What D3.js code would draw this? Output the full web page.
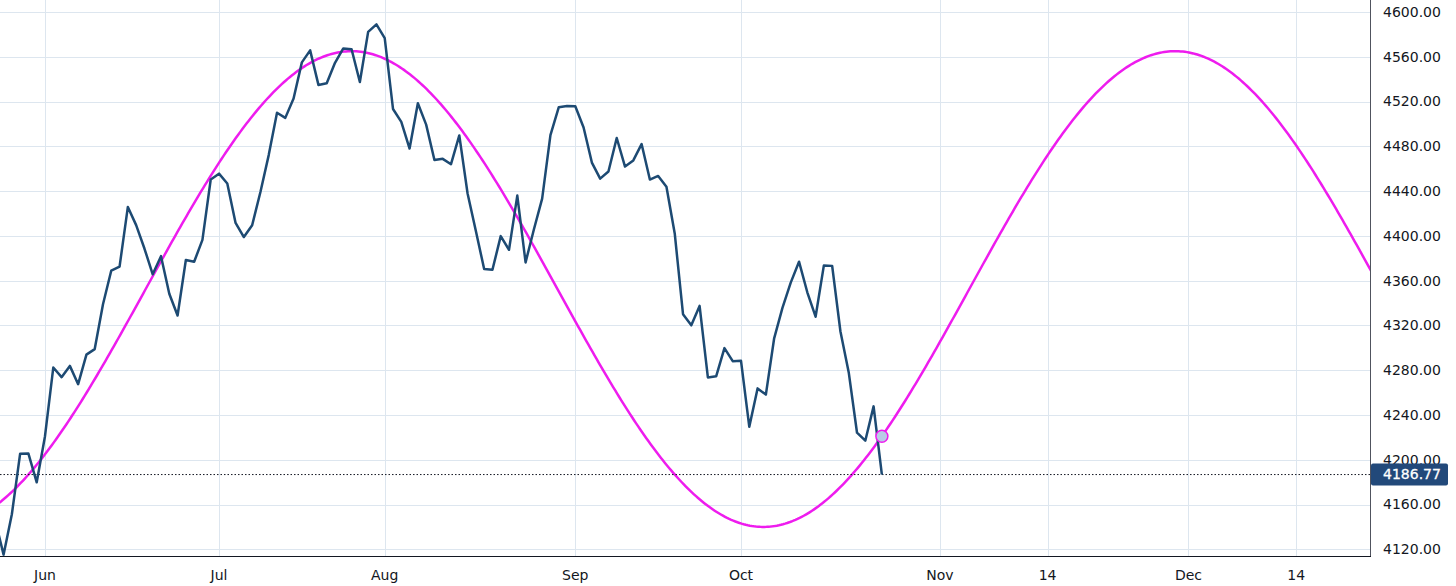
<!DOCTYPE html>
<html>
<head>
<meta charset="utf-8">
<script src="https://cdn.jsdelivr.net/npm/d3@7"></script>
<style>
  html, body { margin: 0; padding: 0; background: #ffffff; }
  svg { display: block; }
  text { font-family: "DejaVu Sans", Verdana, sans-serif; }
</style>
</head>
<body>
<svg id="chart" width="1456" height="586"></svg>
<script>
// ---------------- DATA ----------------
const dates = [
  "2023-05-23","2023-05-24","2023-05-25","2023-05-26","2023-05-30","2023-05-31",
  "2023-06-01","2023-06-02","2023-06-05","2023-06-06","2023-06-07","2023-06-08","2023-06-09",
  "2023-06-12","2023-06-13","2023-06-14","2023-06-15","2023-06-16","2023-06-20","2023-06-21",
  "2023-06-22","2023-06-23","2023-06-26","2023-06-27","2023-06-28","2023-06-29","2023-06-30",
  "2023-07-03","2023-07-05","2023-07-06","2023-07-07","2023-07-10","2023-07-11","2023-07-12",
  "2023-07-13","2023-07-14","2023-07-17","2023-07-18","2023-07-19","2023-07-20","2023-07-21",
  "2023-07-24","2023-07-25","2023-07-26","2023-07-27","2023-07-28","2023-07-31",
  "2023-08-01","2023-08-02","2023-08-03","2023-08-04","2023-08-07","2023-08-08","2023-08-09",
  "2023-08-10","2023-08-11","2023-08-14","2023-08-15","2023-08-16","2023-08-17","2023-08-18",
  "2023-08-21","2023-08-22","2023-08-23","2023-08-24","2023-08-25","2023-08-28","2023-08-29",
  "2023-08-30","2023-08-31","2023-09-01","2023-09-05","2023-09-06","2023-09-07","2023-09-08",
  "2023-09-11","2023-09-12","2023-09-13","2023-09-14","2023-09-15","2023-09-18","2023-09-19",
  "2023-09-20","2023-09-21","2023-09-22","2023-09-25","2023-09-26","2023-09-27","2023-09-28",
  "2023-09-29","2023-10-02","2023-10-03","2023-10-04","2023-10-05","2023-10-06","2023-10-09",
  "2023-10-10","2023-10-11","2023-10-12","2023-10-13","2023-10-16","2023-10-17","2023-10-18",
  "2023-10-19","2023-10-20","2023-10-23","2023-10-24","2023-10-25"
];
const closes = [
  4145.58,4115.24,4151.28,4205.45,4205.52,4179.83,
  4221.02,4282.37,4273.79,4283.85,4267.52,4293.93,4298.86,
  4338.93,4369.01,4372.59,4425.84,4409.59,4388.71,4365.69,
  4381.89,4348.33,4328.82,4378.41,4376.86,4396.44,4450.38,
  4455.59,4446.82,4411.59,4398.95,4409.53,4439.26,4472.16,
  4510.04,4505.42,4522.79,4554.98,4565.72,4534.87,4536.34,
  4554.64,4567.46,4566.75,4537.41,4582.23,4588.96,
  4576.73,4513.39,4501.89,4478.03,4518.44,4499.38,4467.71,
  4468.83,4464.05,4489.72,4437.86,4404.33,4370.36,4369.71,
  4399.77,4387.55,4436.01,4376.31,4405.71,4433.31,4490.00,
  4514.87,4516.00,4515.77,4496.83,4465.48,4451.14,4457.49,
  4487.46,4461.90,4467.44,4482.00,4450.32,4453.53,4443.95,
  4402.20,4330.00,4320.06,4337.44,4273.53,4274.51,4299.70,
  4288.05,4288.39,4229.45,4263.75,4258.19,4308.50,4335.66,
  4358.24,4376.95,4349.61,4327.78,4373.63,4373.20,4314.60,
  4278.00,4224.16,4217.04,4247.68,4186.77
];
const lastPrice = 4186.77;

const xTickDates  = ["2023-06-01","2023-07-03","2023-08-01","2023-09-01","2023-10-02","2023-11-01","2023-11-14","2023-12-01","2023-12-14"];
const xTickLabels = ["Jun","Jul","Aug","Sep","Oct","Nov","14","Dec","14"];
const yTicks = [4120,4160,4200,4240,4280,4320,4360,4400,4440,4480,4520,4560,4600];

// Sine-cycle drawing: anchor points (bar index of peak / trough, and their values)
const sineAnchorIndex = [43.0, 92.7];   // peak, trough (index into bar series)
const sineAnchorValue = [4565, 4140];   // peak value, trough value

// ---------------- LAYOUT ----------------
const plotW = 1370, plotH = 556;
const svg = d3.select("#chart");

// bar index for a date (trading bars for history, calendar days for the future)
const parse = d3.utcParse("%Y-%m-%d");
const lastK = dates.length - 1;
const lastDate = parse(dates[lastK]);
function indexOf(ds) {
  const k = dates.indexOf(ds);
  if (k >= 0) return k;
  return lastK + d3.utcDay.count(lastDate, parse(ds));
}

const x = d3.scaleLinear().domain([0.569, 165.91]).range([0, plotW]);
const y = d3.scaleLinear().domain([4120, 4600]).range([549.3, 12]);

// clip
svg.append("defs").append("clipPath").attr("id", "plotclip")
  .append("rect").attr("x", 0).attr("y", 0).attr("width", plotW).attr("height", plotH);

// grid
const grid = svg.append("g");
grid.selectAll("line.h").data(yTicks).join("line")
  .attr("x1", 0).attr("x2", plotW)
  .attr("y1", d => Math.round(y(d)) + 0.5).attr("y2", d => Math.round(y(d)) + 0.5)
  .attr("stroke", "#dde6ef").attr("stroke-width", 1);
grid.selectAll("line.v").data(xTickDates).join("line")
  .attr("x1", d => Math.round(x(indexOf(d))) + 0.5).attr("x2", d => Math.round(x(indexOf(d))) + 0.5)
  .attr("y1", 0).attr("y2", plotH)
  .attr("stroke", "#dde6ef").attr("stroke-width", 1);

const plot = svg.append("g").attr("clip-path", "url(#plotclip)");

// sine curve
const period = 2 * (sineAnchorIndex[1] - sineAnchorIndex[0]);
const mid = (sineAnchorValue[0] + sineAnchorValue[1]) / 2;
const amp = (sineAnchorValue[0] - sineAnchorValue[1]) / 2;
const sineVal = i => mid + amp * Math.cos(2 * Math.PI * (i - sineAnchorIndex[0]) / period);
const sinePts = d3.range(x.domain()[0] - 2, x.domain()[1] + 2, 0.25).map(i => [i, sineVal(i)]);
plot.append("path")
  .attr("d", d3.line().x(d => x(d[0])).y(d => y(d[1])).curve(d3.curveLinear)(sinePts))
  .attr("fill", "none").attr("stroke", "#ee1cee").attr("stroke-width", 2.5);

// last price dotted line
plot.append("line")
  .attr("x1", 0).attr("x2", plotW)
  .attr("y1", y(lastPrice)).attr("y2", y(lastPrice))
  .attr("stroke", "#131722").attr("stroke-width", 1).attr("stroke-dasharray", "1.5,2");

// price line
plot.append("path")
  .attr("d", d3.line().x((d, i) => x(i)).y(d => y(d))(closes))
  .attr("fill", "none").attr("stroke", "#1d4a73").attr("stroke-width", 2.5)
  .attr("stroke-linejoin", "round");

// marker on sine at last bar
plot.append("circle")
  .attr("cx", x(lastK)).attr("cy", y(sineVal(lastK)))
  .attr("r", 6).attr("fill", "#b9cbe6").attr("stroke", "#ee1cee").attr("stroke-width", 1.5);

// axes lines
svg.append("line").attr("x1", plotW + 0.5).attr("x2", plotW + 0.5).attr("y1", 0).attr("y2", plotH + 0.5)
  .attr("stroke", "#50535e").attr("stroke-width", 1);
svg.append("line").attr("x1", 0).attr("x2", plotW + 1).attr("y1", plotH + 0.5).attr("y2", plotH + 0.5)
  .attr("stroke", "#131722").attr("stroke-width", 1.2);

// y labels
const fmt = d3.format(".2f");
svg.append("g").selectAll("text").data(yTicks).join("text")
  .attr("x", 1383).attr("y", d => y(d)).attr("dy", "0.35em")
  .attr("font-size", 14).attr("fill", "#131722").text(d => fmt(d));

// x labels
svg.append("g").selectAll("text").data(xTickDates).join("text")
  .attr("x", d => x(indexOf(d))).attr("y", 580)
  .attr("text-anchor", "middle").attr("font-size", 14).attr("fill", "#131722")
  .text((d, i) => xTickLabels[i]);

// last price label
const ly = y(lastPrice);
svg.append("rect").attr("x", 1371).attr("y", ly - 11).attr("width", 77).attr("height", 22)
  .attr("rx", 2).attr("fill", "#22497a");
svg.append("text").attr("x", 1383).attr("y", ly).attr("dy", "0.35em")
  .attr("font-size", 14).attr("fill", "#ffffff").attr("stroke", "#ffffff").attr("stroke-width", 0.3)
  .text(fmt(lastPrice));
</script>
</body>
</html>
